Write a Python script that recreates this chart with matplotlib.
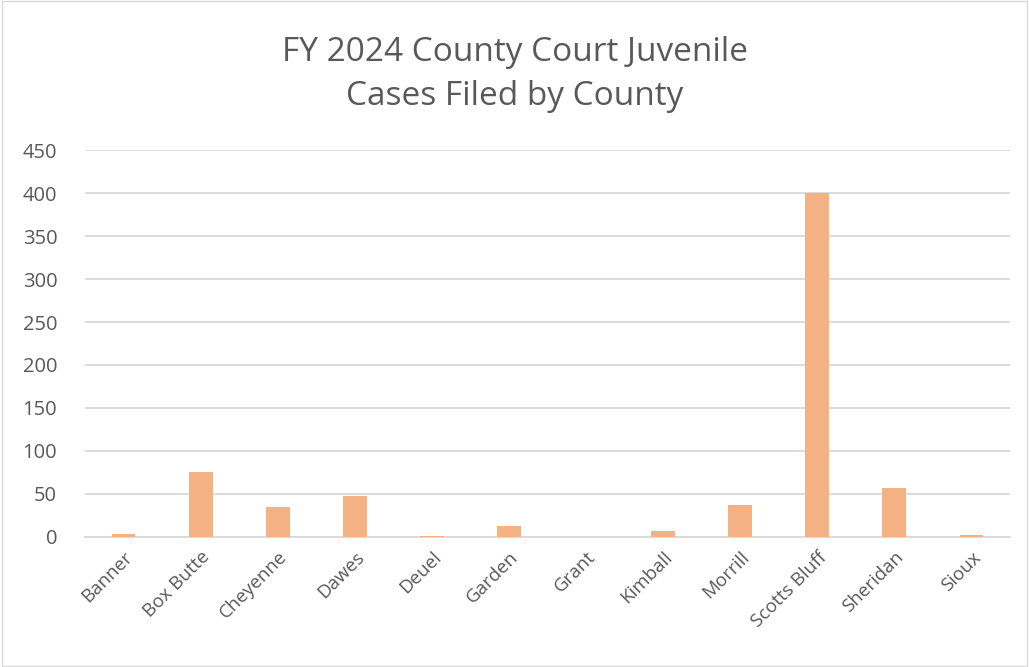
import matplotlib.pyplot as plt
from matplotlib.patches import Rectangle

plt.rcParams['font.family'] = ['Open Sans', 'DejaVu Sans']

# County names and juvenile case counts
counties = ["Banner", "Box Butte", "Cheyenne", "Dawes", "Deuel", "Garden",
            "Grant", "Kimball", "Morrill", "Scotts Bluff", "Sheridan", "Sioux"]
cases = [3, 76, 35, 48, 1, 13, 0, 7, 37, 400, 57, 2]
y_ticks = [0, 50, 100, 150, 200, 250, 300, 350, 400, 450]

fig = plt.figure(figsize=(10.29, 6.67), dpi=100)
ax = fig.add_axes([0.0826, 0.195, 0.899, 0.58])

ax.bar(range(len(counties)), cases, width=0.31, color='#F4B183', zorder=3)

ax.set_ylim(0, 450)
ax.set_xlim(-0.5, len(counties) - 0.5)
ax.set_yticks(y_ticks)
ax.yaxis.grid(True, color='#D9D9D9', linewidth=1.3, zorder=0)
ax.set_xticks(range(len(counties)))
ax.set_xticklabels(counties, rotation=45, ha='right', rotation_mode='anchor')
ax.tick_params(axis='both', length=0, colors='#595959')
ax.tick_params(axis='x', pad=8, labelsize=13.5)
ax.tick_params(axis='y', pad=20, labelsize=14.5)

for s in ['top', 'right', 'left']:
    ax.spines[s].set_visible(False)
ax.spines['bottom'].set_color('#D9D9D9')
ax.spines['bottom'].set_linewidth(1.3)

fig.text(0.5, 0.888, "FY 2024 County Court Juvenile\nCases Filed by County",
         ha='center', va='center', fontsize=24, color='#595959', linespacing=1.45)

# light border around the chart
fig.patches.append(Rectangle((0.002, 0.002), 0.996, 0.996, transform=fig.transFigure,
                             fill=False, edgecolor='#D9D9D9', linewidth=1))

plt.savefig("out.png", dpi=100)
